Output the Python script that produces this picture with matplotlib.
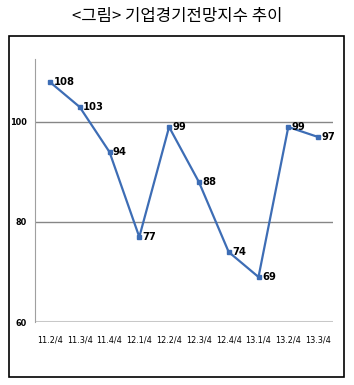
import matplotlib
matplotlib.use("Agg")
import matplotlib.pyplot as plt
from matplotlib.patches import Rectangle
from matplotlib import font_manager

# narrow font for the numbers, if one is there
names = set(f.name for f in font_manager.fontManager.ttflist)
narrow = [n for n in ['Liberation Sans Narrow', 'DejaVu Sans Condensed'] if n in names]
num_family = narrow + ['DejaVu Sans']
plt.rcParams['font.family'] = num_family

# data
quarters = ['11.2/4', '11.3/4', '11.4/4', '12.1/4', '12.2/4',
            '12.3/4', '12.4/4', '13.1/4', '13.2/4', '13.3/4']
index_values = [108, 103, 94, 77, 99, 88, 74, 69, 99, 97]
y_ticks = [60, 80, 100]

W, H = 354, 385
fig = plt.figure(figsize=(W / 100, H / 100), dpi=100)

# outer frame around the chart
fig.patches.append(Rectangle((9 / W, 1 - 377 / H), 335 / W, 341 / H,
                             transform=fig.transFigure, fill=False,
                             edgecolor='black', linewidth=1.2))

fig.text(0.5, 1 - 16 / H, '<그림> 기업경기전망지수 추이', ha='center', va='center',
         fontsize=12, family=['Noto Sans CJK KR', 'DejaVu Sans'])

ax = fig.add_axes([35 / W, 1 - 322 / H, 298 / W, 263 / H])
x = list(range(len(quarters)))
ax.plot(x, index_values, color='#3d6db5', linewidth=1.6,
        marker='s', markersize=3.5, zorder=3)
for xi, v in zip(x, index_values):
    ax.annotate(str(v), (xi, v), xytext=(2.5, 0), textcoords='offset points',
                ha='left', va='center', fontsize=8, stretch='condensed',
                fontweight='bold')

ax.set_xlim(-0.5, len(quarters) - 0.5)
ax.set_ylim(60, 112.6)
ax.set_yticks(y_ticks)
ax.set_xticks(x)
ax.set_xticklabels(quarters)
for y in [80, 100]:
    ax.axhline(y, color='#868686', linewidth=1.0, zorder=1)
ax.axhline(60, color='#c8c8c8', linewidth=2.2, zorder=1)

for s in ['top', 'right', 'bottom']:
    ax.spines[s].set_visible(False)
ax.spines['left'].set_color('#a0a0a0')
ax.tick_params(axis='both', length=0, labelsize=6.5)
ax.tick_params(axis='x', pad=10)
ax.tick_params(axis='y', pad=6)
for lbl in ax.get_xticklabels() + ax.get_yticklabels():
    lbl.set_fontstretch('condensed')
for lbl in ax.get_yticklabels():
    lbl.set_fontweight('bold')

fig.savefig('out.png', dpi=100)
